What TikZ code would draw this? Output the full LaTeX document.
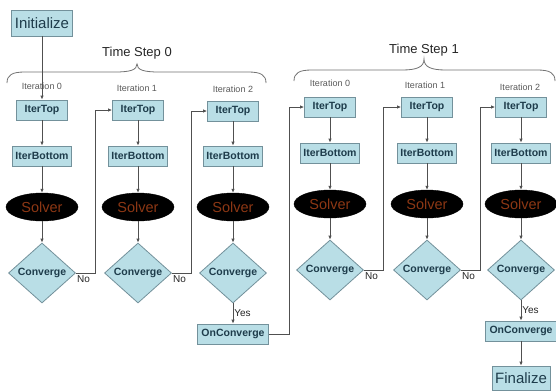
\documentclass[tikz,border=0pt]{standalone}
\usepackage{fontspec}
\setmainfont{Liberation Sans}
\usetikzlibrary{shapes.geometric,arrows.meta}
\definecolor{boxfill}{RGB}{185,222,230}
\definecolor{boxline}{RGB}{115,145,155}
\definecolor{boxtext}{RGB}{30,60,75}
\definecolor{solvertext}{RGB}{140,55,20}
\definecolor{linecol}{RGB}{80,80,80}
\definecolor{labelgray}{RGB}{90,90,90}
\tikzset{
  box/.style={draw=boxline, fill=boxfill, line width=0.8pt, inner sep=0pt,
    text=boxtext, font=\fontsize{10.5}{12}\selectfont\bfseries},
  bigbox/.style={draw=boxline, fill=boxfill, line width=0.8pt, inner sep=0pt,
    text=boxtext, font=\fontsize{15}{17}\selectfont},
  topbox/.style={box, minimum width=51pt, minimum height=20pt},
  botbox/.style={box, minimum width=59pt, minimum height=20pt},
  onbox/.style={box, minimum width=71pt, minimum height=20pt},
  solverbox/.style={ellipse, fill=black, draw=black, inner sep=0pt,
    minimum width=72pt, minimum height=28pt, text=solvertext,
    font=\fontsize{14.5}{16}\selectfont},
  convbox/.style={diamond, draw=boxline, fill=boxfill, line width=0.8pt,
    inner sep=0pt, minimum width=67pt, minimum height=60pt, text=boxtext,
    font=\fontsize{10.5}{12}\selectfont\bfseries},
  iterlabel/.style={text=labelgray, font=\fontsize{9}{10}\selectfont, inner sep=0pt},
  tslabel/.style={text=black!85, font=\fontsize{13}{15}\selectfont, inner sep=0pt},
  edgelabel/.style={text=black!85, font=\fontsize{10}{12}\selectfont, inner sep=1pt},
  arr/.style={draw=linecol, line width=0.8pt, -{Latex[length=4pt,width=3.5pt]}},
  bracestyle/.style={draw=linecol!80, line width=0.8pt},
}
\begin{document}
\begin{tikzpicture}[x=1pt,y=-1pt]
\useasboundingbox (0,0) rectangle (556,391);
\fill[white] (0,0) rectangle (556,391);

% Initialize
\node[bigbox, minimum width=61pt, minimum height=26pt] (init) at (42,23) {Initialize};

% Time step labels and braces
\node[tslabel] (ts0) at (137,53) {Time Step 0};
\node[tslabel] (ts1) at (424,50) {Time Step 1};
\draw[bracestyle] (7,83) .. controls (7,75) and (12,72) .. (25,72) -- (115,72)
  .. controls (130,72) and (137,70) .. (137,64)
  .. controls (137,70) and (144,72) .. (159,72) -- (248,72)
  .. controls (261,72) and (266,75) .. (266,83);
\draw[bracestyle] (294,81) .. controls (294,73) and (299,70) .. (312,70) -- (402,70)
  .. controls (417,70) and (424,67) .. (424,59)
  .. controls (424,67) and (431,70) .. (446,70) -- (537,70)
  .. controls (550,70) and (555,73) .. (555,81);

% Iteration labels
\node[iterlabel] (l00) at (42,86) {Iteration 0};
\node[iterlabel] (l01) at (137,88) {Iteration 1};
\node[iterlabel] (l02) at (233,89) {Iteration 2};
\node[iterlabel] (l10) at (330,83) {Iteration 0};
\node[iterlabel] (l11) at (425,85) {Iteration 1};
\node[iterlabel] (l12) at (520,87) {Iteration 2};

% Columns: time step 0
\foreach \n/\x/\yt/\yb/\ys/\yc in {00/42/110/156/207/273, 01/138/110/156/207/273, 02/233/111/156/207/273,
                                   10/330/107/153/204/270, 11/427/107/153/204/270, 12/521/107/153/204/270}{
  \node[topbox] (t\n) at (\x,\yt) {IterTop};
  \node[botbox] (b\n) at (\x,\yb) {IterBottom};
  \node[solverbox] (s\n) at (\x,\ys) {Solver};
  \node[convbox] (c\n) at (\x,\yc) {Converge};
  \draw[arr] (t\n) -- (b\n);
  \draw[arr] (b\n) -- (s\n);
  \draw[arr] (s\n) -- (c\n);
}

\node[onbox] (on0) at (233,334) {OnConverge};
\node[onbox] (on1) at (521,331) {OnConverge};
\node[bigbox, minimum width=58pt, minimum height=24pt] (fin) at (521,378) {Finalize};

% Main flow
\draw[arr] (init) -- (t00);
\draw[arr] (c02) -- node[edgelabel, right] {Yes} (on0);
\draw[arr] (c12) -- node[edgelabel, right] {Yes} (on1);
\draw[arr] (on1) -- (fin);

% Feedback loops
\draw[arr] (c00.east) -- ([xshift=19pt]c00.east) |- (t01.west);
\draw[arr] (c01.east) -- ([xshift=19pt]c01.east) |- (t02.west);
\draw[arr] (on0.east) -- ([xshift=20pt]on0.east) |- (t10.west);
\draw[arr] (c10.east) -- ([xshift=19pt]c10.east) |- (t11.west);
\draw[arr] (c11.east) -- ([xshift=19pt]c11.east) |- (t12.west);

% No labels
\node[edgelabel, anchor=north west] (no00) at ([yshift=-1pt]c00.east) {No};
\node[edgelabel, anchor=north west] (no01) at ([yshift=-1pt]c01.east) {No};
\node[edgelabel, anchor=north west] (no10) at ([yshift=-1pt]c10.east) {No};
\node[edgelabel, anchor=north west] (no11) at ([yshift=-1pt]c11.east) {No};
\end{tikzpicture}
\end{document}
